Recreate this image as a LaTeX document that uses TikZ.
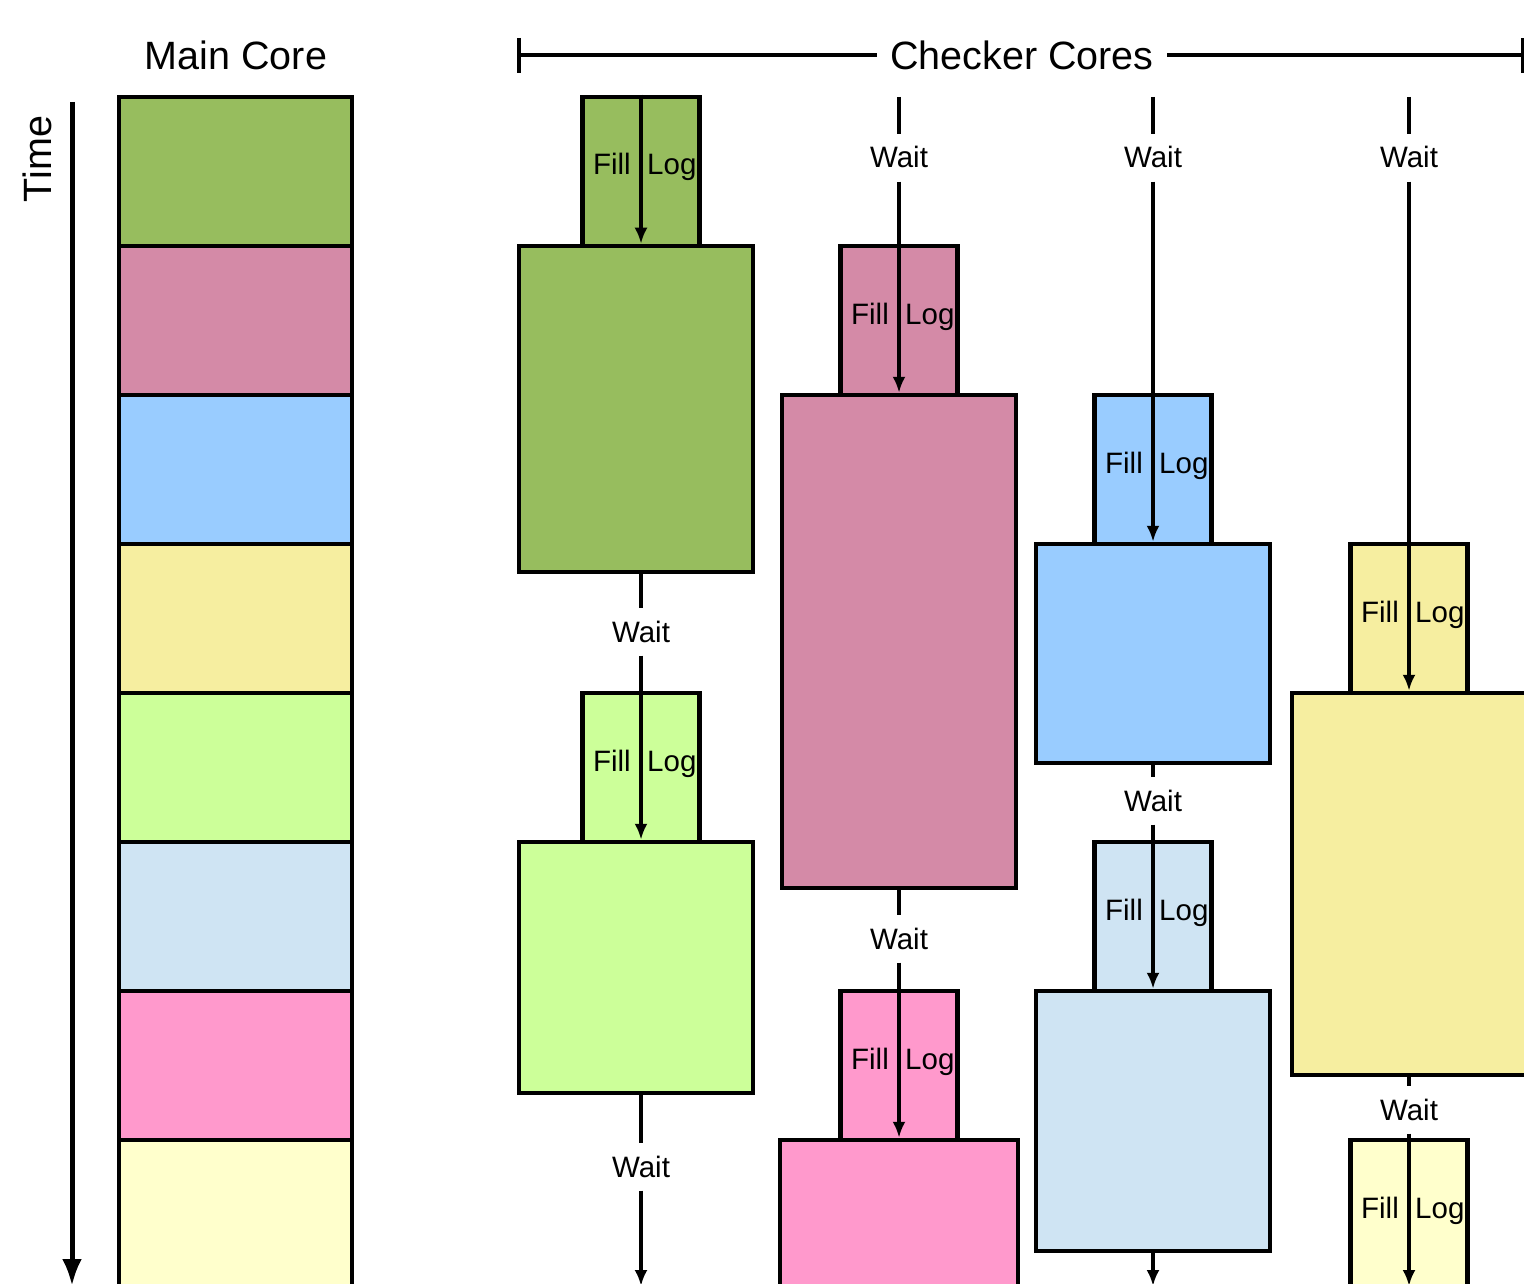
\documentclass[tikz,border=0pt]{standalone}
\usepackage{fontspec}
\setmainfont{Liberation Sans}
\usetikzlibrary{arrows.meta}
\definecolor{cgreen}{RGB}{151,189,94}
\definecolor{cmauve}{RGB}{212,138,167}
\definecolor{clblue}{RGB}{153,204,255}
\definecolor{cpyellow}{RGB}{246,238,160}
\definecolor{clgreen}{RGB}{204,255,153}
\definecolor{cpblue}{RGB}{207,228,243}
\definecolor{cpink}{RGB}{255,153,204}
\definecolor{cvyellow}{RGB}{255,255,204}
\begin{document}
\begin{tikzpicture}[x=1pt,y=-1pt,
 box/.style={draw=black,line width=4.5pt,inner sep=0pt,rectangle},
 mbox/.style={box,minimum width=233pt,minimum height=149pt},
 sbox/.style={box,minimum width=117pt,minimum height=149pt},
 ln/.style={line width=4.5pt},
 arr/.style={line width=4.5pt,-{Latex[length=16pt,width=13pt]}},
 lbl/.style={font=\fontsize{29.5}{33}\selectfont,inner sep=0pt},
 wait/.style={font=\fontsize{29.5}{33}\selectfont,text height=20pt,text depth=0pt,inner xsep=2pt,inner ysep=13.5pt,anchor=base},
 head/.style={font=\fontsize{39.5}{45}\selectfont,inner sep=0pt,anchor=base}]
\useasboundingbox (0,0) rectangle (1524,1284);
\clip (0,0) rectangle (1524,1284);

% Headers
\node[head] (mc) at (236,70) {Main Core};
\node[head,inner xsep=13pt] (cc) at (1022,70) {Checker Cores};
\coordinate (lt) at (519,55);
\coordinate (rt) at (1523,55);
\draw[ln] (lt) -- (lt -| cc.west);
\draw[ln] (rt) -- (rt -| cc.east);
\draw[ln] ([yshift=17pt]lt) -- ([yshift=-18pt]lt);
\draw[ln] ([yshift=17pt]rt) -- ([yshift=-18pt]rt);

% Time axis
\node[head,rotate=90] (time) at (51,159) {Time};
\coordinate (ta) at (72,102);
\coordinate (tb) at (72,1286);
\draw[line width=5pt,-{Latex[length=27pt,width=20pt]}] (ta) -- (tb);

% Main core
\node[mbox,fill=cgreen]   (m1) at (235.5,171.5) {};
\node[mbox,fill=cmauve]   (m2) at (235.5,320.5) {};
\node[mbox,fill=clblue]   (m3) at (235.5,469.5) {};
\node[mbox,fill=cpyellow] (m4) at (235.5,618.5) {};
\node[mbox,fill=clgreen]  (m5) at (235.5,767.5) {};
\node[mbox,fill=cpblue]   (m6) at (235.5,916.5) {};
\node[mbox,fill=cpink]    (m7) at (235.5,1065.5) {};
\node[mbox,fill=cvyellow] (m8) at (235.5,1214.5) {};

% Column 1
\node[sbox,fill=cgreen] (s11) at (641,171.5) {};
\node[box,fill=cgreen,minimum width=234pt,minimum height=326pt] (b11) at (636,409) {};
\node[sbox,fill=clgreen] (s12) at (641,767.5) {};
\node[box,fill=clgreen,minimum width=234pt,minimum height=251pt] (b12) at (636,967.5) {};

% Column 2
\node[sbox,fill=cmauve] (s21) at (899,320.5) {};
\node[box,fill=cmauve,minimum width=234pt,minimum height=493pt] (b21) at (899,641.5) {};
\node[sbox,fill=cpink] (s22) at (899,1065.5) {};
\node[box,fill=cpink,minimum width=238pt,minimum height=160pt] (b22) at (899,1220) {};

% Column 3
\node[sbox,fill=clblue] (s31) at (1153,469.5) {};
\node[box,fill=clblue,minimum width=234pt,minimum height=219pt] (b31) at (1153,653.5) {};
\node[sbox,fill=cpblue] (s32) at (1153,916.5) {};
\node[box,fill=cpblue,minimum width=234pt,minimum height=260pt] (b32) at (1153,1121) {};

% Column 4
\node[sbox,fill=cpyellow] (s41) at (1409,618.5) {};
\node[box,fill=cpyellow,minimum width=234pt,minimum height=382pt] (b41) at (1409,884) {};
\node[sbox,fill=cvyellow] (s42) at (1409,1214.5) {};

% Fill / Log labels
\foreach \n/\x/\y in {11/641/175,12/641/771,21/899/324,22/899/1069,31/1153/473,32/1153/920,41/1409/622,42/1409/1218}{
  \node[lbl,anchor=base east] (f\n) at (\x-10,\y) {Fill};
  \node[lbl,anchor=base west] (l\n) at (\x+6,\y) {Log};
}

% Wait labels
\node[wait] (w11) at (641,642) {Wait};
\node[wait] (w12) at (641,1177) {Wait};
\node[wait] (w21) at (899,168) {Wait};
\node[wait] (w22) at (899,949) {Wait};
\node[wait] (w31) at (1153,168) {Wait};
\node[wait] (w32) at (1153,811) {Wait};
\node[wait] (w41) at (1409,168) {Wait};
\node[wait] (w42) at (1409,1120) {Wait};

\coordinate (t2) at (899,97);
\coordinate (t3) at (1153,97);
\coordinate (t4) at (1409,97);
\coordinate (e1) at (641,1286);
\coordinate (e3) at (1153,1286);
\coordinate (e4) at (1409,1286);

% Column 1 connectors
\draw[arr] (s11.north) -- (s11.north |- b11.north);
\draw[ln] (w11 |- b11.south) -- (w11.north);
\draw[arr] (w11.south) -- (w11 |- b12.north);
\draw[ln] (w12 |- b12.south) -- (w12.north);
\draw[arr] (w12.south) -- (e1);

% Column 2 connectors
\draw[ln] (t2) -- (w21.north);
\draw[arr] (w21.south) -- (b21.north);
\draw[ln] (b21.south) -- (w22.north);
\draw[arr] (w22.south) -- (b22.north);

% Column 3 connectors
\draw[ln] (t3) -- (w31.north);
\draw[arr] (w31.south) -- (b31.north);
\draw[ln] (b31.south) -- (w32.north);
\draw[arr] (w32.south) -- (b32.north);
\draw[arr] (b32.south) -- (e3);

% Column 4 connectors
\draw[ln] (t4) -- (w41.north);
\draw[arr] (w41.south) -- (b41.north);
\draw[ln] (b41.south) -- (w42.north);
\draw[arr] (w42.south) -- (e4);
\end{tikzpicture}
\end{document}
